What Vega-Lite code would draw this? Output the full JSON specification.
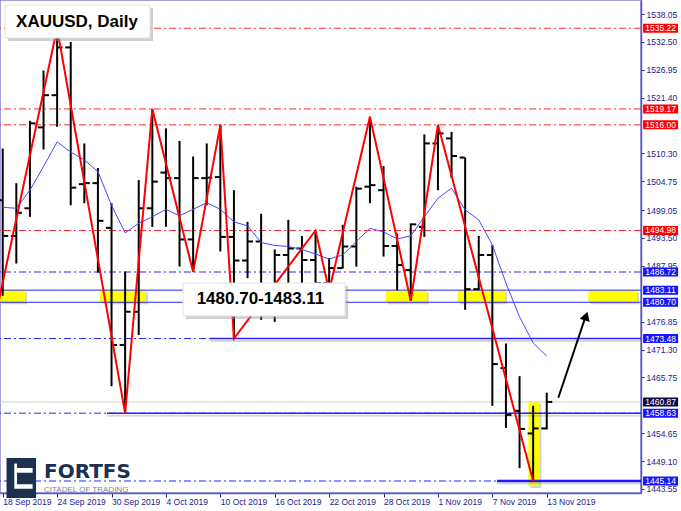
{
  "$schema": "https://vega.github.io/schema/vega-lite/v6.json",
  "width": 641,
  "height": 493,
  "autosize": {"type": "none"},
  "padding": {"left": 0, "top": 0, "right": 40, "bottom": 18},
  "background": "white",
  "config": {
    "view": {"stroke": "#8484cc", "strokeWidth": 1.5},
    "font": "Liberation Sans",
    "axis": {"labelOverlap": false, "labelSeparation": 0, "labelFlush": false, "labelBound": false, "grid": false,
      "labelFontSize": 8.5, "labelColor": "#22228c", "tickColor": "#22228c", "domainColor": "#5a5ab8", "domainWidth": 1.5}
  },
  "resolve": {"axis": {"x": "independent", "y": "independent"}},
  "datasets": {
    "bars": [
      {"i": 0, "o": 1501.0, "h": 1511.3, "l": 1482.0, "c": 1493.9, "ma": 1499.6},
      {"i": 1, "o": 1493.9, "h": 1504.4, "l": 1488.4, "c": 1498.5, "ma": 1499.4},
      {"i": 2, "o": 1499.4, "h": 1516.8, "l": 1497.7, "c": 1516.3, "ma": 1503.0},
      {"i": 3, "o": 1515.5, "h": 1526.8, "l": 1511.1, "c": 1521.9, "ma": 1507.7},
      {"i": 4, "o": 1521.9, "h": 1535.22, "l": 1515.6, "c": 1531.4, "ma": 1512.6},
      {"i": 5, "o": 1531.4, "h": 1532.5, "l": 1500.0, "c": 1503.5, "ma": 1510.6},
      {"i": 6, "o": 1504.2, "h": 1512.3, "l": 1500.4, "c": 1504.4, "ma": 1509.0},
      {"i": 7, "o": 1504.4, "h": 1507.4, "l": 1486.6, "c": 1496.9, "ma": 1506.7},
      {"i": 8, "o": 1495.5, "h": 1500.4, "l": 1464.0, "c": 1472.2, "ma": 1500.0},
      {"i": 9, "o": 1472.2, "h": 1486.8, "l": 1458.63, "c": 1478.8, "ma": 1494.5},
      {"i": 10, "o": 1478.8, "h": 1505.0, "l": 1474.2, "c": 1499.4, "ma": 1496.4},
      {"i": 11, "o": 1499.4, "h": 1519.17, "l": 1495.7, "c": 1504.7, "ma": 1497.7},
      {"i": 12, "o": 1506.5, "h": 1515.3, "l": 1495.7, "c": 1505.4, "ma": 1499.2},
      {"i": 13, "o": 1505.4, "h": 1512.8, "l": 1487.8, "c": 1493.2, "ma": 1497.9},
      {"i": 14, "o": 1493.2, "h": 1509.7, "l": 1486.72, "c": 1505.4, "ma": 1499.2},
      {"i": 15, "o": 1505.4, "h": 1512.3, "l": 1500.0, "c": 1505.5, "ma": 1500.5},
      {"i": 16, "o": 1505.6, "h": 1516.0, "l": 1490.8, "c": 1493.7, "ma": 1499.2},
      {"i": 17, "o": 1493.7, "h": 1503.0, "l": 1473.48, "c": 1489.0, "ma": 1496.7},
      {"i": 18, "o": 1489.0, "h": 1496.7, "l": 1485.5, "c": 1492.8, "ma": 1495.9},
      {"i": 19, "o": 1492.8, "h": 1498.3, "l": 1477.2, "c": 1482.5, "ma": 1492.6},
      {"i": 20, "o": 1482.5, "h": 1491.2, "l": 1476.8, "c": 1490.1, "ma": 1492.0},
      {"i": 21, "o": 1490.1, "h": 1497.1, "l": 1482.8, "c": 1491.4, "ma": 1491.8},
      {"i": 22, "o": 1491.4, "h": 1493.9, "l": 1482.5, "c": 1489.1, "ma": 1491.2},
      {"i": 23, "o": 1489.1, "h": 1494.98, "l": 1482.0, "c": 1484.5, "ma": 1490.3},
      {"i": 24, "o": 1484.5, "h": 1489.5, "l": 1483.0, "c": 1487.5, "ma": 1489.3},
      {"i": 25, "o": 1487.5, "h": 1496.1, "l": 1487.4, "c": 1491.8, "ma": 1490.1},
      {"i": 26, "o": 1491.8, "h": 1503.7, "l": 1487.8, "c": 1503.3, "ma": 1492.8},
      {"i": 27, "o": 1503.7, "h": 1517.6, "l": 1500.4, "c": 1504.0, "ma": 1495.4},
      {"i": 28, "o": 1503.0, "h": 1507.8, "l": 1489.8, "c": 1491.9, "ma": 1494.7},
      {"i": 29, "o": 1491.9, "h": 1494.4, "l": 1483.1, "c": 1488.1, "ma": 1493.3},
      {"i": 30, "o": 1487.1, "h": 1496.4, "l": 1481.0, "c": 1496.2, "ma": 1493.9},
      {"i": 31, "o": 1495.7, "h": 1514.1, "l": 1493.7, "c": 1512.3, "ma": 1497.7},
      {"i": 32, "o": 1512.3, "h": 1516.0, "l": 1503.0, "c": 1514.3, "ma": 1501.4},
      {"i": 33, "o": 1513.3, "h": 1514.6, "l": 1505.4, "c": 1509.8, "ma": 1503.4},
      {"i": 34, "o": 1509.5, "h": 1509.5, "l": 1479.2, "c": 1483.3, "ma": 1499.1},
      {"i": 35, "o": 1483.3, "h": 1493.9, "l": 1483.1, "c": 1490.1, "ma": 1497.1},
      {"i": 36, "o": 1490.1, "h": 1492.1, "l": 1460.1, "c": 1468.4, "ma": 1492.1},
      {"i": 37, "o": 1467.6, "h": 1472.5, "l": 1455.7, "c": 1458.3, "ma": 1484.5},
      {"i": 38, "o": 1459.1, "h": 1466.0, "l": 1447.7, "c": 1455.5, "ma": 1477.8},
      {"i": 39, "o": 1454.6, "h": 1460.1, "l": 1445.14, "c": 1455.6, "ma": 1472.6},
      {"i": 40, "o": 1455.6, "h": 1462.7, "l": 1455.4, "c": 1460.87, "ma": 1470.0}
    ],
    "zigzag": [
      {"i": -1, "p": 1472.0},
      {"i": 4, "p": 1535.22},
      {"i": 9, "p": 1458.63},
      {"i": 11, "p": 1519.17},
      {"i": 14, "p": 1486.72},
      {"i": 16, "p": 1516.0},
      {"i": 17, "p": 1473.48},
      {"i": 23, "p": 1494.98},
      {"i": 24, "p": 1483.0},
      {"i": 27, "p": 1517.6},
      {"i": 30, "p": 1481.0},
      {"i": 32, "p": 1516.0},
      {"i": 39, "p": 1445.14}
    ],
    "yellow": [
      {"x1": -0.2, "x2": 1.64, "p1": 1480.7, "p2": 1483.11},
      {"x1": 7.15, "x2": 10.54, "p1": 1480.7, "p2": 1483.11},
      {"x1": 28.18, "x2": 31.18, "p1": 1480.7, "p2": 1483.11},
      {"x1": 33.46, "x2": 36.93, "p1": 1480.7, "p2": 1483.11},
      {"x1": 43.06, "x2": 46.64, "p1": 1480.7, "p2": 1483.11},
      {"x1": 38.65, "x2": 39.46, "p1": 1444.14, "p2": 1460.91}
    ],
    "notes": [
      {"x1": 0.17, "x2": 10.83, "p1": 1533.28, "p2": 1539.84, "tx": 0.98, "tp": 1536.56, "t": "XAUUSD, Daily"},
      {"x1": 13.26, "x2": 25.17, "p1": 1477.97, "p2": 1484.53, "tx": 14.26, "tp": 1481.25, "t": "1480.70-1483.11"}
    ],
    "plabels": [
      {"p": 1535.22, "k": "r"},
      {"p": 1519.17, "k": "r"},
      {"p": 1516.0, "k": "r"},
      {"p": 1494.98, "k": "r"},
      {"p": 1486.72, "k": "b"},
      {"p": 1483.11, "k": "b"},
      {"p": 1480.7, "k": "b"},
      {"p": 1473.48, "k": "b"},
      {"p": 1460.87, "k": "n"},
      {"p": 1458.63, "k": "b"},
      {"p": 1445.14, "k": "b"}
    ]
  },
  "layer": [
    {
      "data": {"name": "yellow"},
      "mark": {"type": "rect", "color": "#a0a0a0", "opacity": 0.45, "xOffset": 2, "x2Offset": 2, "yOffset": 2, "y2Offset": 2},
      "encoding": {
        "x": {"field": "x1", "type": "quantitative", "title": null, "scale": {"domain": [-0.2, 46.93], "nice": false, "zero": false},
          "axis": {"orient": "bottom", "title": null, "values": [0, 4, 8, 12, 16, 20, 24, 28, 32, 36, 40],
            "labelExpr": "['18 Sep 2019','24 Sep 2019','30 Sep 2019','4 Oct 2019','10 Oct 2019','16 Oct 2019','22 Oct 2019','28 Oct 2019','1 Nov 2019','7 Nov 2019','13 Nov 2019'][datum.value/4]",
            "labelAlign": "left", "labelBaseline": "top", "labelPadding": 0, "tickSize": 4, "labelOverlap": false}},
        "x2": {"field": "x2"},
        "y": {"field": "p1", "type": "quantitative", "title": null, "scale": {"domain": [1442.75, 1540.84], "nice": false, "zero": false},
          "axis": {"orient": "right", "title": null,
            "values": [1538.05, 1532.5, 1526.95, 1521.4, 1510.3, 1504.75, 1499.05, 1493.5, 1487.95, 1476.85, 1471.3, 1465.75, 1454.65, 1449.1, 1443.55],
            "format": ".2f", "tickSize": 3, "labelPadding": 2, "labelOverlap": false}},
        "y2": {"field": "p2"}
      }
    },
    {
      "data": {"name": "yellow"},
      "mark": {"type": "rect", "color": "#ffff00"},
      "encoding": {
        "x": {"field": "x1", "type": "quantitative", "axis": null},
        "x2": {"field": "x2"},
        "y": {"field": "p1", "type": "quantitative", "axis": null},
        "y2": {"field": "p2"}
      }
    },
    {
      "data": {"values": [{"p": 1460.87}]},
      "mark": {"type": "rule", "color": "#cfcfcf", "strokeWidth": 1},
      "encoding": {"y": {"field": "p", "type": "quantitative", "axis": null}}
    },
    {
      "data": {"values": [{"p": 1535.22}, {"p": 1519.17}, {"p": 1516.0}, {"p": 1494.98}]},
      "mark": {"type": "rule", "color": "#ff2a2a", "strokeWidth": 1, "strokeDash": [7, 3, 2, 3]},
      "encoding": {"y": {"field": "p", "type": "quantitative", "axis": null}}
    },
    {
      "data": {"values": [{"p": 1486.72}, {"p": 1473.48}, {"p": 1458.63}, {"p": 1445.14}]},
      "mark": {"type": "rule", "color": "#2525ff", "strokeWidth": 1, "strokeDash": [7, 3, 2, 3]},
      "encoding": {"y": {"field": "p", "type": "quantitative", "axis": null}}
    },
    {
      "data": {"values": [{"p": 1483.11}, {"p": 1480.7}]},
      "mark": {"type": "rule", "color": "#2525ff", "strokeWidth": 1},
      "encoding": {"y": {"field": "p", "type": "quantitative", "axis": null}}
    },
    {
      "data": {"values": [{"p": 1473.48, "a": 15.24, "b": 46.93}, {"p": 1458.63, "a": 7.67, "b": 46.93}, {"p": 1445.14, "a": 36.35, "b": 46.93}]},
      "mark": {"type": "rule", "color": "#909090", "opacity": 0.35, "strokeWidth": 2, "yOffset": 2.5},
      "encoding": {
        "x": {"field": "a", "type": "quantitative", "axis": null},
        "x2": {"field": "b"},
        "y": {"field": "p", "type": "quantitative", "axis": null}
      }
    },
    {
      "data": {"values": [{"p": 1473.48, "a": 15.24, "b": 46.93}, {"p": 1458.63, "a": 7.67, "b": 46.93}]},
      "mark": {"type": "rule", "color": "#2525ff", "strokeWidth": 1.5},
      "encoding": {
        "x": {"field": "a", "type": "quantitative", "axis": null},
        "x2": {"field": "b"},
        "y": {"field": "p", "type": "quantitative", "axis": null}
      }
    },
    {
      "data": {"values": [{"p": 1445.14, "a": 36.35, "b": 46.93}]},
      "mark": {"type": "rule", "color": "#1a1aff", "strokeWidth": 2.5},
      "encoding": {
        "x": {"field": "a", "type": "quantitative", "axis": null},
        "x2": {"field": "b"},
        "y": {"field": "p", "type": "quantitative", "axis": null}
      }
    },
    {
      "data": {"name": "bars"},
      "mark": {"type": "rule", "color": "#000000", "strokeWidth": 2},
      "encoding": {
        "x": {"field": "i", "type": "quantitative", "axis": null},
        "y": {"field": "l", "type": "quantitative", "axis": null},
        "y2": {"field": "h"}
      }
    },
    {
      "data": {"name": "bars"},
      "mark": {"type": "tick", "orient": "horizontal", "size": 5, "thickness": 2, "color": "#000000", "opacity": 1, "xOffset": -3},
      "encoding": {
        "x": {"field": "i", "type": "quantitative", "axis": null},
        "y": {"field": "o", "type": "quantitative", "axis": null}
      }
    },
    {
      "data": {"name": "bars"},
      "mark": {"type": "tick", "orient": "horizontal", "size": 5, "thickness": 2, "color": "#000000", "opacity": 1, "xOffset": 3},
      "encoding": {
        "x": {"field": "i", "type": "quantitative", "axis": null},
        "y": {"field": "c", "type": "quantitative", "axis": null}
      }
    },
    {
      "data": {"name": "bars"},
      "mark": {"type": "line", "color": "#4848ff", "strokeWidth": 1},
      "encoding": {
        "x": {"field": "i", "type": "quantitative", "axis": null},
        "y": {"field": "ma", "type": "quantitative", "axis": null}
      }
    },
    {
      "data": {"name": "zigzag"},
      "mark": {"type": "line", "color": "#ff0000", "strokeWidth": 2},
      "encoding": {
        "x": {"field": "i", "type": "quantitative", "axis": null},
        "y": {"field": "p", "type": "quantitative", "axis": null}
      }
    },
    {
      "data": {"values": [{"i": 40.85, "p": 1461.71}, {"i": 42.82, "p": 1477.57}]},
      "mark": {"type": "line", "color": "#000000", "strokeWidth": 2},
      "encoding": {
        "x": {"field": "i", "type": "quantitative", "axis": null},
        "y": {"field": "p", "type": "quantitative", "axis": null}
      }
    },
    {
      "data": {"values": [{"i": 42.89, "p": 1477.97}]},
      "mark": {"type": "point", "shape": "triangle-up", "filled": true, "color": "#000000", "opacity": 1, "size": 110, "angle": 18},
      "encoding": {
        "x": {"field": "i", "type": "quantitative", "axis": null},
        "y": {"field": "p", "type": "quantitative", "axis": null}
      }
    },
    {
      "data": {"name": "notes"},
      "mark": {"type": "rect", "color": "#9a9a9a", "opacity": 0.45, "xOffset": 3, "x2Offset": 3, "yOffset": 3, "y2Offset": 3},
      "encoding": {
        "x": {"field": "x1", "type": "quantitative", "axis": null},
        "x2": {"field": "x2"},
        "y": {"field": "p1", "type": "quantitative", "axis": null},
        "y2": {"field": "p2"}
      }
    },
    {
      "data": {"name": "notes"},
      "mark": {"type": "rect", "color": "#ffffff", "stroke": "#e2e2e2", "strokeWidth": 1},
      "encoding": {
        "x": {"field": "x1", "type": "quantitative", "axis": null},
        "x2": {"field": "x2"},
        "y": {"field": "p1", "type": "quantitative", "axis": null},
        "y2": {"field": "p2"}
      }
    },
    {
      "data": {"name": "notes"},
      "mark": {"type": "text", "font": "Liberation Sans", "fontWeight": "bold", "fontSize": 17, "color": "#000000", "align": "left", "baseline": "middle"},
      "encoding": {
        "x": {"field": "tx", "type": "quantitative", "axis": null},
        "y": {"field": "tp", "type": "quantitative", "axis": null},
        "text": {"field": "t"}
      }
    },
    {
      "data": {"values": [{"x1": 0.28, "x2": 2.45, "p1": 1441.76, "p2": 1449.72}]},
      "mark": {"type": "rect", "color": "#1c3150"},
      "encoding": {
        "x": {"field": "x1", "type": "quantitative", "axis": null},
        "x2": {"field": "x2"},
        "y": {"field": "p1", "type": "quantitative", "axis": null},
        "y2": {"field": "p2"}
      }
    },
    {
      "data": {"values": [{"x1": 1.05, "x2": 2.2, "p1": 1446.8, "p2": 1447.7}, {"x1": 1.05, "x2": 2.2, "p1": 1443.6, "p2": 1444.5}, {"x1": 0.85, "x2": 1.05, "p1": 1443.6, "p2": 1448.6}]},
      "mark": {"type": "rect", "color": "#ffffff"},
      "encoding": {
        "x": {"field": "x1", "type": "quantitative", "axis": null},
        "x2": {"field": "x2"},
        "y": {"field": "p1", "type": "quantitative", "axis": null},
        "y2": {"field": "p2"}
      }
    },
    {
      "data": {"values": [{"x": 3.04, "p": 1445.74, "t": "FORTFS"}]},
      "mark": {"type": "text", "font": "DejaVu Sans", "fontWeight": "bold", "fontSize": 20, "color": "#1c3150", "align": "left", "baseline": "alphabetic"},
      "encoding": {
        "x": {"field": "x", "type": "quantitative", "axis": null},
        "y": {"field": "p", "type": "quantitative", "axis": null},
        "text": {"field": "t"}
      }
    },
    {
      "data": {"values": [{"x": 3.04, "p": 1442.85, "t": "CITADEL OF TRADING"}]},
      "mark": {"type": "text", "font": "Liberation Sans", "fontSize": 8, "color": "#7a8599", "align": "left", "baseline": "alphabetic"},
      "encoding": {
        "x": {"field": "x", "type": "quantitative", "axis": null},
        "y": {"field": "p", "type": "quantitative", "axis": null},
        "text": {"field": "t"}
      }
    },
    {
      "data": {"name": "plabels"},
      "mark": {"type": "tick", "orient": "horizontal", "size": 35, "thickness": 9, "opacity": 1},
      "encoding": {
        "x": {"datum": 48.37, "type": "quantitative", "axis": null},
        "y": {"field": "p", "type": "quantitative", "axis": null},
        "color": {"field": "k", "type": "nominal", "scale": {"domain": ["r", "b", "n"], "range": ["#ff0000", "#1515ff", "#0a0a46"]}, "legend": null}
      }
    },
    {
      "data": {"name": "plabels"},
      "mark": {"type": "text", "font": "Liberation Sans", "fontSize": 8.5, "color": "#ffffff", "align": "center", "baseline": "middle"},
      "encoding": {
        "x": {"datum": 48.37, "type": "quantitative", "axis": null},
        "y": {"field": "p", "type": "quantitative", "axis": null},
        "text": {"field": "p", "type": "quantitative", "format": ".2f"}
      }
    }
  ]
}
